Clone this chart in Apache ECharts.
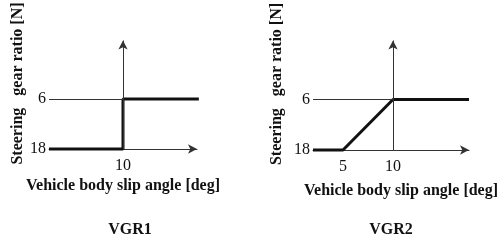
<!DOCTYPE html>
<html>
<head>
<meta charset="utf-8">
<script src="https://cdn.jsdelivr.net/npm/echarts@6/dist/echarts.min.js"></script>
<style>
html, body { margin: 0; padding: 0; background: #fff; }
#main { width: 501px; height: 240px; }
</style>
</head>
<body>
<div id="main"></div>
<script>
// VGR1: step change at 10 deg
var vgr1X = [2, 10, 10, 18.2];
var vgr1Y = [18, 18, 6, 6];
// VGR2: ramp from 5 to 10 deg
var vgr2X = [2, 5, 10, 17.6];
var vgr2Y = [18, 18, 6, 6];

var vgr1Ticks = [10];
var vgr2Ticks = [5, 10];
var ratioTicks = [6, 18];
var titles = ['VGR1', 'VGR2'];

var serif = 'Liberation Serif';

function pairs(xs, ys) {
    var out = [];
    for (var i = 0; i < xs.length; i++) {
        out.push([xs[i], ys[i]]);
    }
    return out;
}

function xAxisFor(idx, ticks, max, shift, gap) {
    return {
        type: 'value', gridIndex: idx, min: 2, max: max,
        position: 'bottom',
        axisLine: { show: true, onZero: false, symbol: ['none', 'arrow'], symbolSize: [7, 9],
            lineStyle: { color: '#333', width: 1 } },
        axisTick: { show: false },
        splitLine: { show: false },
        axisLabel: { customValues: ticks, color: '#111', fontFamily: serif, fontSize: 16, margin: 9 },
        name: 'Vehicle body slip angle [deg]',
        nameLocation: 'middle', nameGap: gap,
        nameTextStyle: { color: '#111', fontFamily: serif, fontWeight: 'bold', fontSize: 16,
            padding: [0, 0, 0, shift] }
    };
}

function yAxisFor(idx, gap) {
    return {
        type: 'value', gridIndex: idx, inverse: true, min: -8.6, max: 18,
        axisLine: { show: false },
        axisTick: { show: false },
        splitLine: { show: false },
        axisLabel: { customValues: ratioTicks, color: '#111', fontFamily: serif, fontSize: 16, margin: 3 },
        name: 'Steering   gear ratio [N]',
        nameLocation: 'middle', nameGap: gap,
        nameTextStyle: { color: '#111', fontFamily: serif, fontWeight: 'bold', fontSize: 16,
            padding: [0, 0, 0, 20] }
    };
}

function seriesFor(idx, data) {
    return {
        type: 'line', xAxisIndex: idx, yAxisIndex: idx,
        data: data, showSymbol: false, clip: false, silent: true,
        lineStyle: { color: '#111', width: 3 },
        markLine: {
            silent: true, animation: false,
            label: { show: false },
            lineStyle: { color: '#333', width: 1, type: 'solid' },
            symbolSize: [7, 9],
            data: [
                [{ coord: [10, 18], symbol: 'none' }, { coord: [10, -8], symbol: 'arrow' }],
                [{ coord: [2, 6], symbol: 'none' }, { coord: [10, 6], symbol: 'none' }]
            ]
        }
    };
}

var myChart = echarts.init(document.getElementById('main'));

var option = {
    backgroundColor: '#fff',
    animation: false,
    title: [
        { text: titles[0], left: 125, top: 217, textAlign: 'center',
          textStyle: { fontFamily: serif, fontWeight: 'bold', fontSize: 16, color: '#111' } },
        { text: titles[1], left: 386, top: 217, textAlign: 'center',
          textStyle: { fontFamily: serif, fontWeight: 'bold', fontSize: 16, color: '#111' } }
    ],
    grid: [
        { left: 49, top: 38, width: 148, bottom: 91 },
        { left: 313, top: 38, width: 156, bottom: 90 }
    ],
    xAxis: [
        xAxisFor(0, vgr1Ticks, 18, 0, 29),
        xAxisFor(1, vgr2Ticks, 17.6, 20, 33)
    ],
    yAxis: [
        yAxisFor(0, 23),
        yAxisFor(1, 28)
    ],
    series: [
        seriesFor(0, pairs(vgr1X, vgr1Y)),
        seriesFor(1, pairs(vgr2X, vgr2Y))
    ]
};
myChart.setOption(option);
</script>
</body>
</html>
